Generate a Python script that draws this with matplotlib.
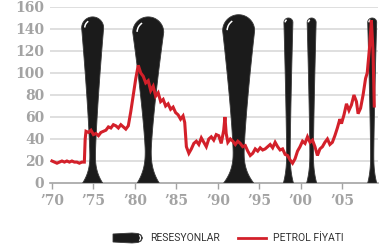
import numpy as np
import matplotlib
matplotlib.use('Agg')
import matplotlib.pyplot as plt
from matplotlib.patches import Polygon, Arc
from matplotlib.lines import Line2D

# petrol price (year, $/barrel)
years = [1970.0, 1970.3, 1970.6, 1970.9, 1971.2, 1971.5, 1971.8, 1972.1, 1972.4, 1972.7,
         1973.0, 1973.3, 1973.6, 1973.9, 1974.0, 1974.1, 1974.4, 1974.7, 1975.0, 1975.3,
         1975.6, 1975.9, 1976.2, 1976.5, 1976.8, 1977.1, 1977.4, 1977.7, 1978.0, 1978.3,
         1978.6, 1978.9, 1979.2, 1979.5, 1979.8, 1980.1, 1980.4, 1980.7, 1981.0, 1981.3,
         1981.6, 1981.9, 1982.2, 1982.5, 1982.8, 1983.1, 1983.4, 1983.7, 1984.0, 1984.3,
         1984.6, 1984.9, 1985.2, 1985.5, 1985.8, 1986.0, 1986.2, 1986.5, 1986.8, 1987.1,
         1987.4, 1987.7, 1988.0, 1988.3, 1988.6, 1988.9, 1989.2, 1989.5, 1989.8, 1990.1,
         1990.4, 1990.7, 1990.85, 1991.0, 1991.2, 1991.5, 1991.8, 1992.1, 1992.4, 1992.7,
         1993.0, 1993.3, 1993.6, 1993.9, 1994.2, 1994.5, 1994.8, 1995.1, 1995.4, 1995.7,
         1996.0, 1996.3, 1996.6, 1996.9, 1997.2, 1997.5, 1997.8, 1998.1, 1998.4, 1998.7,
         1999.0, 1999.3, 1999.6, 1999.9, 2000.2, 2000.5, 2000.8, 2001.1, 2001.4, 2001.7,
         2002.0, 2002.3, 2002.6, 2002.9, 2003.2, 2003.5, 2003.8, 2004.1, 2004.4, 2004.7,
         2004.9, 2005.2, 2005.5, 2005.8, 2006.1, 2006.4, 2006.7, 2006.9, 2007.2, 2007.5,
         2007.8, 2008.0, 2008.3, 2008.5, 2008.7, 2008.85]
prices = [20, 19, 18, 19, 20, 19, 20, 19, 20, 19,
          19, 18, 19, 19, 40, 47, 46, 48, 44, 45,
          43, 46, 47, 48, 51, 50, 53, 52, 50, 53,
          51, 49, 52, 65, 80, 95, 107, 100, 97, 91,
          93, 84, 88, 79, 82, 74, 76, 70, 72, 67,
          69, 64, 62, 58, 61, 55, 33, 27, 31, 36,
          38, 35, 41, 37, 33, 40, 42, 39, 44, 43,
          36, 48, 60, 45, 37, 40, 38, 35, 38, 36,
          33, 34, 29, 25, 27, 31, 29, 32, 30, 31,
          33, 35, 32, 37, 33, 30, 31, 26, 25, 21,
          18, 22, 29, 33, 38, 36, 42, 37, 39, 33,
          25, 31, 33, 37, 40, 35, 37, 43, 50, 58,
          54, 62, 72, 66, 71, 80, 74, 63, 68, 80,
          95, 100, 125, 148, 120, 70]

# recessions: centre year, bulb top (price units), half widths in pixels
rec_center = [1974.9, 1981.6, 1992.5, 1998.5, 2001.3, 2008.6]
rec_top = [151, 151, 153, 150, 150, 150]
rec_top_hw = [11, 15.5, 16, 4.5, 4.5, 4.5]
rec_neck_hw = [2.8, 3, 5.5, 1.8, 1.8, 1.6]
rec_base_hw = [10, 11, 15, 5, 5, 4.5]
rec_neck_h = [28, 32, 31, 30, 30, 28]

y_ticks = [0, 20, 40, 60, 80, 100, 120, 140, 160]
x_ticks = [1970, 1975, 1980, 1985, 1990, 1995, 2000, 2005]
x_labels = ['\u201970', '\u201975', '\u201980', '\u201985', '\u201990', '\u201995', '\u201900', '\u201905']
legend_labels = ['RESESYONLAR', 'PETROL F\u0130YATI']

W, H = 379, 252
RED = '#d3202a'
GREY = '#a3a3a3'

fig = plt.figure(figsize=(W / 100, H / 100), dpi=100)
ax_l, ax_b, ax_w, ax_h = 50, 69, 328, 176  # pixels
ax = fig.add_axes([ax_l / W, ax_b / H, ax_w / W, ax_h / H])
x0, x1 = 1969.76, 2009.3
ax.set_xlim(x0, x1)
ax.set_ylim(0, 160)
ppx = ax_w / (x1 - x0)   # px per year
ppy = ax_h / 160.0       # px per price unit

for v in y_ticks[1:]:
    ax.axhline(v, color='#d6d6d6', lw=1.1, zorder=0)


def pin_outline(cx, top, t, n, b, hn):
    # vase/teardrop outline, worked out in pixels then put back in data units
    Hp = top * ppy
    hc = Hp - t
    h1 = np.linspace(0, hn, 30)
    w1 = n + (b - n) * (1 - h1 / hn) ** 2.5
    h2 = np.linspace(hn, hc, 40)
    w2 = n + (t - n) * ((h2 - hn) / (hc - hn)) ** 1.3
    ang = np.linspace(0, np.pi / 2, 30)
    h3 = hc + t * np.sin(ang)
    w3 = t * np.cos(ang)
    h = np.concatenate([h1, h2, h3])
    w = np.concatenate([w1, w2, w3])
    xs = np.concatenate([cx + w / ppx, (cx - w / ppx)[::-1]])
    ys = np.concatenate([h, h[::-1]]) / ppy
    return np.column_stack([xs, ys]), hc


for cx, top, t, n, b, hn in zip(rec_center, rec_top, rec_top_hw, rec_neck_hw, rec_base_hw, rec_neck_h):
    pts, hc = pin_outline(cx, top, t, n, b, hn)
    ax.add_patch(Polygon(pts, closed=True, facecolor='#1b1b1b', edgecolor='#3a3a3a',
                         lw=0.6, zorder=2))
    r = 0.72 * t
    ax.add_patch(Arc((cx, hc / ppy), 2 * r / ppx, 2 * r / ppy, theta1=95, theta2=160,
                     color='white', lw=1.1, zorder=3))

ax.plot(years, prices, color=RED, lw=2.2, zorder=4, solid_joinstyle='miter')

for s in ['top', 'right', 'left']:
    ax.spines[s].set_visible(False)
ax.spines['bottom'].set_color(GREY)
ax.spines['bottom'].set_linewidth(1.2)
ax.spines['bottom'].set_zorder(1)

ax.set_yticks(y_ticks)
ax.set_xticks(x_ticks)
ax.set_xticklabels(x_labels)
ax.tick_params(axis='y', length=0, pad=4, labelsize=10, labelcolor=GREY)
ax.tick_params(axis='x', length=4, width=1, color=GREY, pad=4, labelsize=10, labelcolor=GREY)
for lab in ax.get_xticklabels() + ax.get_yticklabels():
    lab.set_fontfamily('DejaVu Serif')
    lab.set_fontweight('bold')

# legend drawn by hand
ly = (H - 238) / H
icon = np.array([[113, 234], [132, 233], [138, 233.5], [141, 235], [142.5, 238],
                 [141, 241], [138, 242.5], [132, 243], [113, 242]], dtype=float)
icon[:, 0] /= W
icon[:, 1] = (H - icon[:, 1]) / H
fig.patches.append(Polygon(icon, closed=True, facecolor='#1b1b1b', edgecolor='#3a3a3a',
                           lw=0.6, transform=fig.transFigure, figure=fig))
fig.patches.append(Arc((137 / W, ly), 7 / W, 7 / H, theta1=-60, theta2=60, color='white',
                       lw=0.9, transform=fig.transFigure, figure=fig))
fig.lines.append(Line2D([238 / W, 266 / W], [ly, ly], color=RED, lw=2.0,
                        transform=fig.transFigure, figure=fig))
fig.text(150 / W, ly, legend_labels[0], ha='left', va='center', fontsize=7.5,
         color='#333333', family='Roboto')
fig.text(273 / W, ly, legend_labels[1], ha='left', va='center', fontsize=7.5,
         color='#333333', family='Roboto')

fig.savefig('out.png', dpi=100)
